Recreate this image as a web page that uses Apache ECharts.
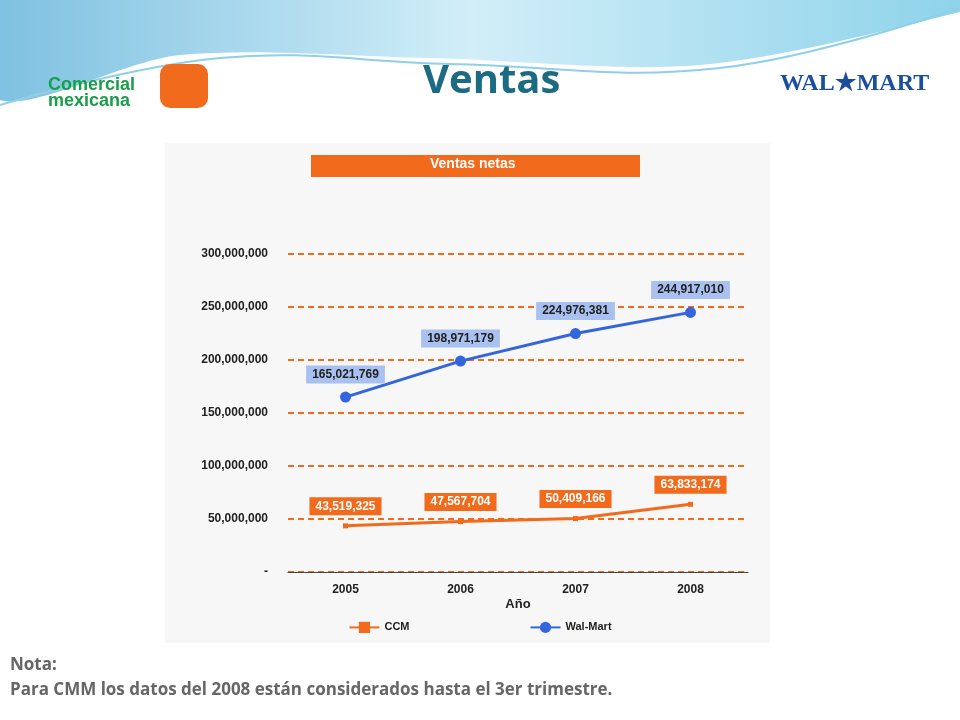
<!DOCTYPE html>
<html><head><meta charset="utf-8">
<script src="https://cdn.jsdelivr.net/npm/echarts@6/dist/echarts.min.js"></script>
<style>html,body{margin:0;padding:0;background:#fff}#c{width:960px;height:720px}</style>
</head><body><div id="c"></div>
<script>
var years = ['2005', '2006', '2007', '2008'];
var ccm = [43519325, 47567704, 50409166, 63833174];
var walmart = [165021769, 198971179, 224976381, 244917010];
var yTicks = [0, 50000000, 100000000, 150000000, 200000000, 250000000, 300000000];

var fmt = function (v) { return v === 0 ? '-' : v.toLocaleString('en-US'); };

var myChart = echarts.init(document.getElementById('c'));
myChart.setOption({
    backgroundColor: '#fff',
    textStyle: { fontFamily: 'Liberation Sans' },
    graphic: [
        // top swoosh
        { type: 'polygon', shape: { points: [[0, 0], [960, 0], [960, 12], [700, 65], [430, 58], [180, 55], [0, 100]], smooth: 0.3 },
          style: { fill: { type: 'linear', x: 0, y: 0, x2: 1, y2: 0, colorStops: [{ offset: 0, color: '#7cc0e0' }, { offset: 0.5, color: '#d2eef8' }, { offset: 1, color: '#8ed3ea' }] } } },
        { type: 'polyline', shape: { points: [[0, 105], [220, 58], [450, 64], [720, 68], [960, 8]], smooth: 0.4 },
          style: { fill: null, stroke: '#8fd0e8', lineWidth: 2 } },
        { type: 'rect', shape: { x: 165, y: 143, width: 605, height: 500 }, style: { fill: '#f7f7f7' } },
        { type: 'rect', shape: { x: 311, y: 155, width: 329, height: 22 }, style: { fill: '#f26a1b' } },
        { type: 'text', left: 430, top: 157, style: { text: 'Ventas netas', fill: '#fff', font: 'bold 14px Liberation Sans' } },
        { type: 'text', left: 423, top: 62, style: { text: 'Ventas', fill: '#1c6b82', font: 'bold 40px Open Sans' } },
        { type: 'text', left: 48, top: 76, style: { text: 'Comercial\nmexicana', fill: '#1a9e4a', font: 'bold 18px Liberation Sans', lineHeight: 16 } },
        { type: 'rect', shape: { x: 160, y: 64, width: 48, height: 44, r: 10 }, style: { fill: '#f26a1b' } },
        { type: 'text', left: 780, top: 72, style: { text: 'WAL★MART', fill: '#1b4f9c', font: 'bold 24px Liberation Sans Narrow' } },
        { type: 'text', left: 10, top: 657, style: { text: 'Nota:', fill: '#666', font: 'bold 17px Open Sans' } },
        { type: 'text', left: 10, top: 682, style: { text: 'Para CMM los datos del 2008 están considerados hasta el 3er trimestre.', fill: '#666', font: 'bold 17px Open Sans' } }
    ],
    legend: {
        bottom: 82, left: 'center', itemGap: 120, itemWidth: 30,
        textStyle: { fontSize: 11, fontWeight: 'bold', color: '#222' },
        data: ['CCM', 'Wal-Mart']
    },
    grid: { left: 288, right: 212, top: 254, bottom: 148 },
    xAxis: {
        type: 'category', data: years, name: 'Año', nameLocation: 'middle', nameGap: 26,
        nameTextStyle: { fontWeight: 'bold', fontSize: 13, color: '#222' },
        axisLine: { lineStyle: { color: '#444' } },
        axisTick: { length: 8, lineStyle: { color: '#444' } },
        axisLabel: { fontWeight: 'bold', fontSize: 12, color: '#222', margin: 12 }
    },
    yAxis: {
        type: 'value', min: 0, max: 300000000, interval: 50000000,
        axisLine: { show: false }, axisTick: { show: false },
        axisLabel: { formatter: fmt, fontWeight: 'bold', fontSize: 12, color: '#222', margin: 20 },
        splitLine: { lineStyle: { color: '#f26a1b', type: [6, 4], width: 2 } }
    },
    series: [
        {
            name: 'CCM', type: 'line', data: ccm, color: '#f26a1b',
            symbol: 'rect', symbolSize: 5, lineStyle: { width: 3 },
            label: { show: true, position: 'top', distance: 8, formatter: function (p) { return fmt(p.value); },
                backgroundColor: '#f26a1b', color: '#fff', fontSize: 12, fontWeight: 'bold', padding: [3, 6] }
        },
        {
            name: 'Wal-Mart', type: 'line', data: walmart, color: '#3366dd',
            symbol: 'circle', symbolSize: 11, lineStyle: { width: 3 },
            label: { show: true, position: 'top', distance: 8, formatter: function (p) { return fmt(p.value); },
                backgroundColor: '#a9c1f0', color: '#222', fontSize: 12, fontWeight: 'bold', padding: [3, 6] }
        }
    ]
});
</script></body></html>
